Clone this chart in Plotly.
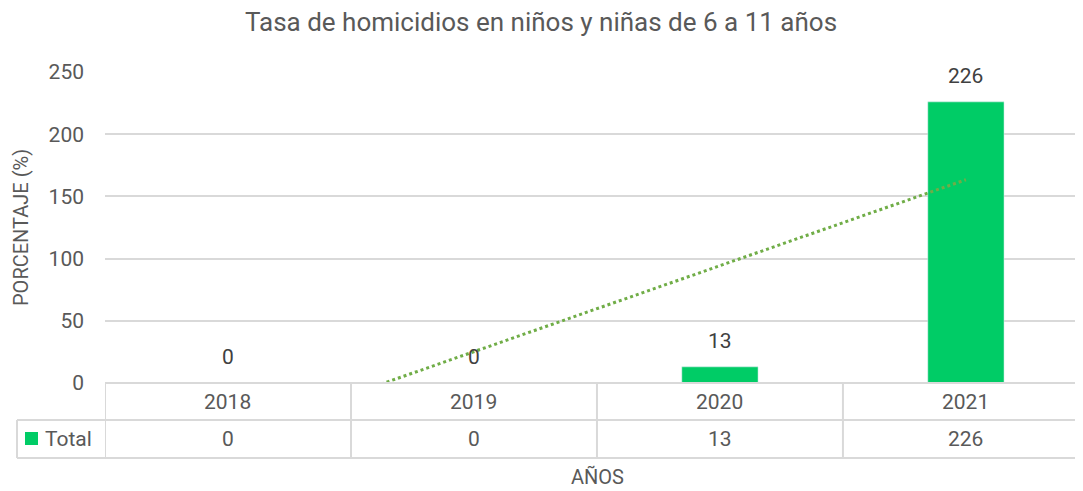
import numpy as np
import plotly.graph_objects as go

title = "Tasa de homicidios en niños y niñas de 6 a 11 años"
years = ["2018", "2019", "2020", "2021"]
totals = [0, 0, 13, 226]
series_name = "Total"
y_title = "PORCENTAJE (%)"
x_title = "AÑOS"

BAR = "#00CC66"
TREND = "#70AD47"
GRID = "#D9D9D9"
TXT = "#595959"
FONT = "Roboto"

OFF = 8  # page body margin in the browser
W, H = 1083 - OFF, 491 - OFF
L, R, T, B = 105 - OFF, 0, 72 - OFF, 491 - 383
plot_h = H - T - B
plot_w = W - L - R

xs = list(range(len(years)))
slope, intercept = np.polyfit(xs, totals, 1)
trend_y = [slope * x + intercept for x in xs]

fig = go.Figure()
fig.add_trace(go.Bar(x=xs, y=totals, marker_color=BAR, width=0.31, showlegend=False,
                     hoverinfo="skip"))
fig.add_trace(go.Scatter(x=xs, y=trend_y, mode="lines",
                         line=dict(color=TREND, width=3, dash="dot"),
                         showlegend=False, hoverinfo="skip"))

for x, v in zip(xs, totals):
    fig.add_annotation(x=x, y=v, xref="x", yref="y", text=str(v), showarrow=False,
                       yanchor="bottom", yshift=12, font=dict(size=21, color="#404040", family=FONT))

def py(p):  # reference pixel y -> paper
    return (H - B - (p - OFF)) / plot_h

def px(p):  # reference pixel x -> paper
    return ((p - OFF) - L) / plot_w

row1 = py(420)
row2 = py(458)
xmin, xmax = -0.5, 3.476

shapes = []
line = dict(color=GRID, width=2)
shapes.append(dict(type="line", xref="paper", yref="paper", x0=0, x1=1, y0=0, y1=0, line=line))
shapes.append(dict(type="line", xref="paper", yref="paper", x0=px(17), x1=1, y0=row1, y1=row1, line=line))
shapes.append(dict(type="line", xref="paper", yref="paper", x0=px(17), x1=1, y0=row2, y1=row2, line=line))
shapes.append(dict(type="line", xref="paper", yref="paper", x0=px(17), x1=px(17), y0=row1, y1=row2, line=line))
for b in [-0.5, 0.5, 1.5, 2.5]:
    shapes.append(dict(type="line", xref="x", yref="paper", x0=b, x1=b, y0=0, y1=row2, line=line))
shapes.append(dict(type="rect", xref="paper", yref="paper", x0=px(25), x1=px(38),
                   y0=py(445), y1=py(432), fillcolor=BAR, line=dict(width=0)))

for x, yr, v in zip(xs, years, totals):
    fig.add_annotation(x=x, y=(0 + row1) / 2, xref="x", yref="paper", text=yr, showarrow=False,
                       font=dict(size=21, color=TXT, family=FONT), yanchor="middle")
    fig.add_annotation(x=x, y=(row1 + row2) / 2, xref="x", yref="paper", text=str(v), showarrow=False,
                       font=dict(size=21, color=TXT, family=FONT), yanchor="middle")

fig.add_annotation(x=px(43), y=(row1 + row2) / 2, xref="paper", yref="paper", text=series_name,
                   showarrow=False, xanchor="left", yanchor="middle",
                   font=dict(size=21, color=TXT, family=FONT))
fig.add_annotation(x=px(597), y=py(477), xref="paper", yref="paper", text=x_title,
                   showarrow=False, xanchor="center", yanchor="middle",
                   font=dict(size=20, color=TXT, family=FONT))
fig.add_annotation(x=px(21), y=py(228), xref="paper", yref="paper", text=y_title,
                   showarrow=False, xanchor="center", yanchor="middle", textangle=-90,
                   font=dict(size=20, color=TXT, family=FONT))

fig.update_layout(
    width=W, height=H,
    margin=dict(l=L, r=R, t=T, b=B),
    paper_bgcolor="white", plot_bgcolor="white",
    title=dict(text=title, x=(541 - OFF) / W, xanchor="center", y=1 - (22 - OFF) / H, yanchor="middle",
               font=dict(size=26, color=TXT, family=FONT)),
    xaxis=dict(range=[xmin, xmax], showticklabels=False, showgrid=False, zeroline=False,
               ticks="", fixedrange=True),
    yaxis=dict(range=[0, 250], tickvals=[0, 50, 100, 150, 200, 250], showgrid=True,
               gridcolor=GRID, gridwidth=2, zeroline=False, ticks="",
               tickfont=dict(size=21, color=TXT, family=FONT), ticklabelstandoff=20),
    shapes=shapes,
    font=dict(family=FONT, color=TXT),
)

fig.write_html("out.html")
